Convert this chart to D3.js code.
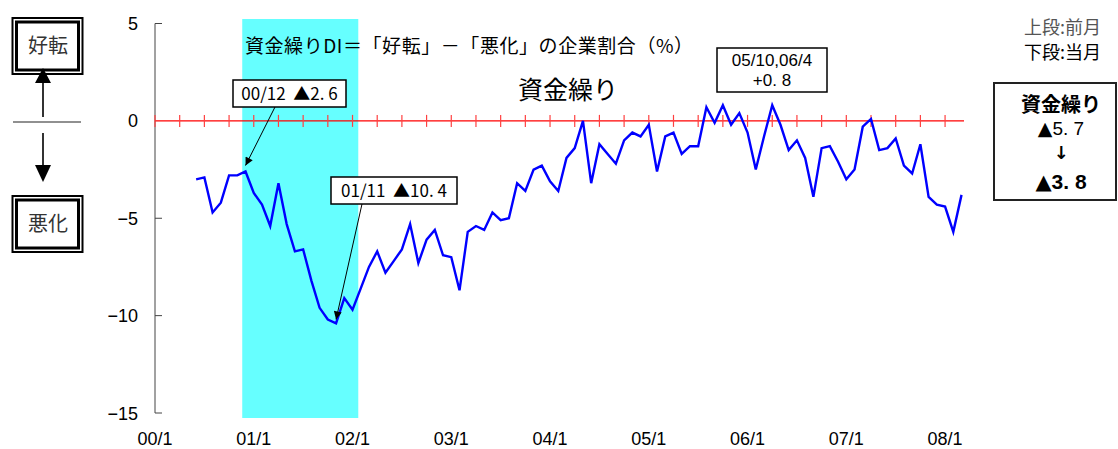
<!DOCTYPE html>
<html>
<head>
<meta charset="utf-8">
<script src="https://cdn.jsdelivr.net/npm/d3@7"></script>
<style>
  body { margin: 0; background: #fff; }
  svg { display: block; font-family: "Noto Sans CJK JP", "Liberation Sans", sans-serif; }
  text { white-space: pre; }
</style>
</head>
<body>
<svg class="chart"></svg>
<script>
// months counted from 00/1 (index 0); series starts at 00/6
var firstIndex = 5;
var values = [
  -3.0, -2.9, -4.7, -4.2, -2.8, -2.8, -2.6,
  -3.7, -4.3, -5.4, -3.2, -5.3, -6.7, -6.6, -8.2, -9.6, -10.2, -10.4, -9.1,
  -9.7, -8.6, -7.5, -6.7, -7.8, -7.2, -6.6, -5.3, -7.3, -6.1, -5.6, -6.9,
  -7.0, -8.7, -5.7, -5.4, -5.6, -4.7, -5.1, -5.0, -3.2, -3.6, -2.5, -2.3,
  -3.1, -3.6, -1.9, -1.4, 0.0, -3.2, -1.2, -1.7, -2.2, -1.0, -0.6, -0.8,
  -0.2, -2.6, -0.8, -0.6, -1.7, -1.3, -1.3, 0.7, -0.1, 0.8, -0.2, 0.4,
  -0.6, -2.5, -0.8, 0.8, -0.2, -1.5, -1.0, -1.9, -3.9, -1.4, -1.3, -2.1,
  -3.0, -2.5, -0.3, 0.1, -1.5, -1.4, -0.9, -2.3, -2.7, -1.2, -3.9, -4.3,
  -4.4, -5.7, -3.8
];
var xTickLabels = ["00/1", "01/1", "02/1", "03/1", "04/1", "05/1", "06/1", "07/1", "08/1"];
var yTicks = [5, 0, -5, -10, -15];
// recession shading (month index from 00/1)
var recession = [10.6, 24.7];
var prevValue = "5. 7", currValue = "3. 8";

var annotations = [
  { idx: 11, text: "00/12  ▲2. 6", box: [233, 80, 113, 27], from: [275, 107], dy: -6 },
  { idx: 22, text: "01/11  ▲10. 4", box: [331, 177, 126, 27], from: [362, 204], dy: -4 }
];

var width = 1118, height = 449;
var svg = d3.select(".chart").attr("width", width).attr("height", height);

var x = d3.scaleLinear().domain([0, 98.3]).range([155, 964]);
var y = d3.scaleLinear().domain([-15, 5]).range([413, 23.5]);

var data = values.map(function(v, i) { return { i: i + firstIndex, v: v }; });

// shading
svg.append("rect")
  .attr("x", x(recession[0])).attr("y", 19)
  .attr("width", x(recession[1]) - x(recession[0]))
  .attr("height", 418 - 19)
  .attr("fill", "#66ffff");

// y axis
svg.append("line")
  .attr("x1", x(0)).attr("x2", x(0))
  .attr("y1", y(5)).attr("y2", y(-15))
  .attr("stroke", "#444").attr("stroke-width", 1);
svg.selectAll(".ytick").data(yTicks.filter(function(d) { return d !== 0; }))
  .enter().append("line")
  .attr("x1", x(0)).attr("x2", x(0) + 7)
  .attr("y1", function(d) { return y(d); }).attr("y2", function(d) { return y(d); })
  .attr("stroke", "#444");
svg.selectAll(".ylab").data(yTicks)
  .enter().append("text")
  .attr("x", 138).attr("y", function(d) { return y(d) + 6.5; })
  .attr("text-anchor", "end")
  .attr("font-family", "Liberation Sans, Arial, sans-serif")
  .attr("font-size", 18)
  .text(function(d) { return d < 0 ? "\u2212" + Math.abs(d) : d; });

// zero line with quarterly ticks
svg.append("line")
  .attr("x1", x(0)).attr("x2", x(98.3))
  .attr("y1", y(0)).attr("y2", y(0))
  .attr("stroke", "#ff0000").attr("stroke-width", 1.3);
svg.selectAll(".qtick").data(d3.range(0, 97, 3))
  .enter().append("line")
  .attr("x1", function(d) { return x(d); }).attr("x2", function(d) { return x(d); })
  .attr("y1", y(0) - 6).attr("y2", y(0) + 6)
  .attr("stroke", "#ff4040").attr("stroke-width", 1.2);

// x labels
svg.selectAll(".xlab").data(xTickLabels)
  .enter().append("text")
  .attr("x", function(d, i) { return x(i * 12); })
  .attr("y", 445)
  .attr("text-anchor", "middle")
  .attr("font-family", "Liberation Sans, Arial, sans-serif")
  .attr("font-size", 18)
  .text(function(d) { return d; });

// titles
svg.append("text")
  .attr("x", 245).attr("y", 53)
  .attr("font-size", 19)
  .attr("textLength", 448)
  .attr("lengthAdjust", "spacing")
  .text("資金繰りDI＝「好転」－「悪化」の企業割合（%）");
svg.append("text")
  .attr("x", 568).attr("y", 99)
  .attr("text-anchor", "middle")
  .attr("font-size", 25)
  .text("資金繰り");

// series line
var line = d3.line()
  .x(function(d) { return x(d.i); })
  .y(function(d) { return y(d.v); });
svg.append("path")
  .datum(data)
  .attr("d", line)
  .attr("fill", "none")
  .attr("stroke", "#0000ff")
  .attr("stroke-width", 2.4)
  .attr("stroke-linejoin", "miter");

// arrowhead marker
var defs = svg.append("defs");
defs.append("marker")
  .attr("id", "head")
  .attr("viewBox", "0 0 10 10")
  .attr("refX", 10).attr("refY", 5)
  .attr("markerWidth", 10).attr("markerHeight", 8)
  .attr("markerUnits", "userSpaceOnUse")
  .attr("orient", "auto")
  .append("path").attr("d", "M0,0L10,5L0,10Z").attr("fill", "#000");

// annotations
annotations.forEach(function(a) {
  var v = values[a.idx - firstIndex];
  svg.append("line")
    .attr("x1", a.from[0]).attr("y1", a.from[1])
    .attr("x2", x(a.idx)).attr("y2", y(v) + a.dy)
    .attr("stroke", "#000").attr("stroke-width", 1)
    .attr("marker-end", "url(#head)");
  svg.append("rect")
    .attr("x", a.box[0]).attr("y", a.box[1])
    .attr("width", a.box[2]).attr("height", a.box[3])
    .attr("fill", "#fff").attr("stroke", "#000").attr("stroke-width", 1.5);
  svg.append("text")
    .attr("x", a.box[0] + a.box[2] / 2).attr("y", a.box[1] + 20)
    .attr("text-anchor", "middle").attr("font-size", 17)
    .text(a.text);
});

// peak box
svg.append("rect")
  .attr("x", 717).attr("y", 48).attr("width", 110).attr("height", 44)
  .attr("fill", "#fff").attr("stroke", "#000").attr("stroke-width", 1.5);
svg.append("text").attr("x", 772).attr("y", 66).attr("text-anchor", "middle")
  .attr("font-family", "Liberation Sans, Arial, sans-serif")
  .attr("font-size", 17).text("05/10,06/4");
svg.append("text").attr("x", 772).attr("y", 86).attr("text-anchor", "middle")
  .attr("font-family", "Liberation Sans, Arial, sans-serif")
  .attr("font-size", 17).text("+0. 8");

// left legend: 好転 / 悪化
function dblBox(by, label) {
  svg.append("rect").attr("x", 12.5).attr("y", by).attr("width", 70).attr("height", 56)
    .attr("fill", "#fff").attr("stroke", "#000").attr("stroke-width", 2);
  svg.append("rect").attr("x", 16.5).attr("y", by + 4).attr("width", 62).attr("height", 48)
    .attr("fill", "none").attr("stroke", "#000").attr("stroke-width", 3);
  svg.append("text").attr("x", 48).attr("y", by + 35).attr("text-anchor", "middle")
    .attr("font-size", 20).attr("fill", "#333").text(label);
}
dblBox(18, "好転");
dblBox(196, "悪化");
svg.append("line").attr("x1", 13).attr("x2", 81).attr("y1", 122).attr("y2", 122)
  .attr("stroke", "#222").attr("stroke-width", 1.2);
svg.append("line").attr("x1", 43).attr("x2", 43).attr("y1", 117).attr("y2", 82)
  .attr("stroke", "#333").attr("stroke-width", 2);
svg.append("path").attr("d", "M43,68L51,83L35,83Z").attr("fill", "#000");
svg.append("line").attr("x1", 43).attr("x2", 43).attr("y1", 133).attr("y2", 166)
  .attr("stroke", "#333").attr("stroke-width", 2);
svg.append("path").attr("d", "M43,182L51,165L35,165Z").attr("fill", "#000");

// right legend
svg.append("text").attr("x", 1101).attr("y", 34).attr("text-anchor", "end")
  .attr("font-size", 18).attr("fill", "#555").text("上段:前月");
svg.append("text").attr("x", 1101).attr("y", 59).attr("text-anchor", "end")
  .attr("font-size", 18).attr("fill", "#000").text("下段:当月");
svg.append("rect").attr("x", 994).attr("y", 83).attr("width", 122).attr("height", 117)
  .attr("fill", "#fff").attr("stroke", "#222").attr("stroke-width", 2);
svg.append("text").attr("x", 1061).attr("y", 112).attr("text-anchor", "middle")
  .attr("font-size", 20).attr("font-weight", "bold").text("資金繰り");

function triText(ty, val, size, bold) {
  var t = svg.append("text").attr("x", 1061).attr("y", ty).attr("text-anchor", "middle")
    .attr("font-family", "Liberation Sans, Arial, sans-serif")
    .attr("font-size", size).attr("font-weight", bold ? "bold" : "normal");
  t.append("tspan").attr("font-family", "DejaVu Sans").text("▲");
  t.append("tspan").text(val);
}
triText(135, prevValue, 19, false);
svg.append("text").attr("x", 1061).attr("y", 159).attr("text-anchor", "middle")
  .attr("font-family", "DejaVu Sans")
  .attr("font-size", 18).attr("font-weight", "bold").text("↓");
triText(189, currValue, 21, true);
</script>
</body>
</html>
